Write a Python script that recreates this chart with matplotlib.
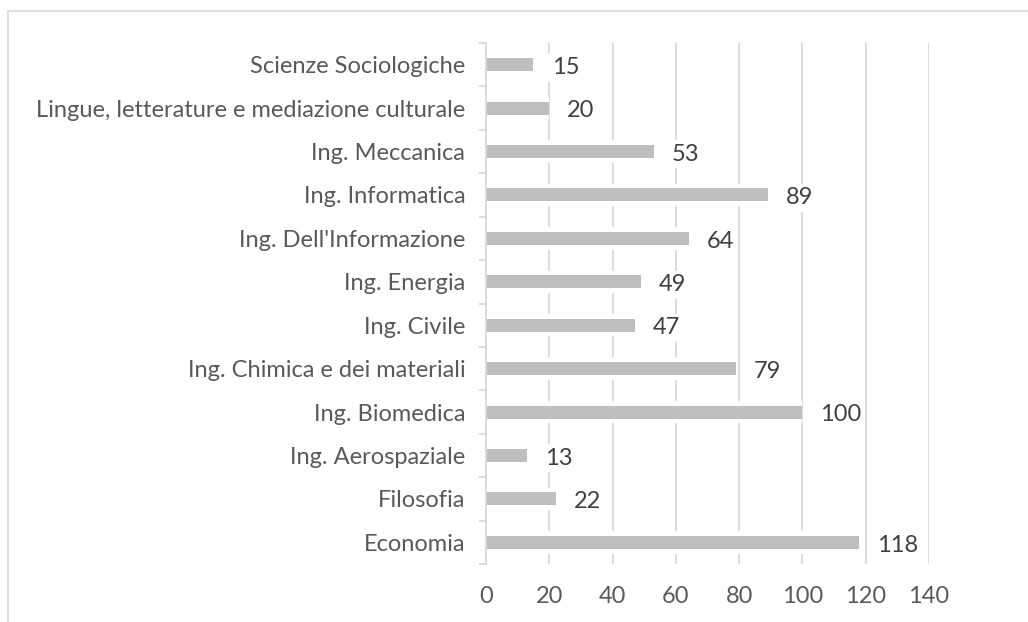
import numpy as np
import matplotlib.pyplot as plt
from matplotlib.patches import Rectangle

categories = ["Economia", "Filosofia", "Ing. Aerospaziale", "Ing. Biomedica",
              "Ing. Chimica e dei materiali", "Ing. Civile", "Ing. Energia",
              "Ing. Dell'Informazione", "Ing. Informatica", "Ing. Meccanica",
              "Lingue, letterature e mediazione culturale", "Scienze Sociologiche"]
values = [118, 22, 13, 100, 79, 47, 49, 64, 89, 53, 20, 15]
xticks = [0, 20, 40, 60, 80, 100, 120, 140]

plt.rcParams['font.family'] = ['Lato', 'DejaVu Sans']
text_color = '#595959'
grid_color = '#d9d9d9'

fig = plt.figure(figsize=(10.28, 6.22), dpi=100)
ax = fig.add_axes([486 / 1028, 1 - 564 / 622, 443 / 1028, 521 / 622])

# outer chart border (partly cut off in the original)
fig.patches.append(Rectangle((8 / 1028, -0.1), 1.2, 1 - 11 / 622 + 0.1,
                             transform=fig.transFigure, fill=False,
                             edgecolor=grid_color, linewidth=1.2))

y = np.arange(len(categories))
ax.barh(y, values, height=0.52, color='white', zorder=2)
ax.barh(y, values, height=0.3, color='#bfbfbf', zorder=3)

for yi, v in zip(y, values):
    ax.annotate(str(v), (v, yi), xytext=(13, -2), textcoords='offset points',
                ha='left', va='center', fontsize=17, color='#404040', zorder=4,
                bbox=dict(boxstyle='square,pad=0.15', fc='white', ec='none'))

ax.set_xlim(0, 140)
ax.set_ylim(-0.5, len(categories) - 0.5)
ax.set_xticks(xticks)
ax.set_yticks(y)
ax.set_yticklabels(categories)
ax.set_yticks(np.arange(len(categories) + 1) - 0.5, minor=True)

ax.grid(axis='x', color=grid_color, linewidth=1.3, zorder=1)
ax.set_axisbelow(True)
for side in ['top', 'right', 'bottom']:
    ax.spines[side].set_visible(False)
ax.spines['left'].set_color(grid_color)
ax.spines['left'].set_linewidth(1.3)
ax.spines['left'].set_zorder(5)

ax.tick_params(axis='x', length=0, pad=16, labelsize=17, labelcolor=text_color)
ax.tick_params(axis='y', which='major', length=0, pad=15, labelsize=17, labelcolor=text_color)
ax.tick_params(axis='y', which='minor', length=5, width=1.3, color=grid_color)

fig.savefig('out.png', dpi=100)
